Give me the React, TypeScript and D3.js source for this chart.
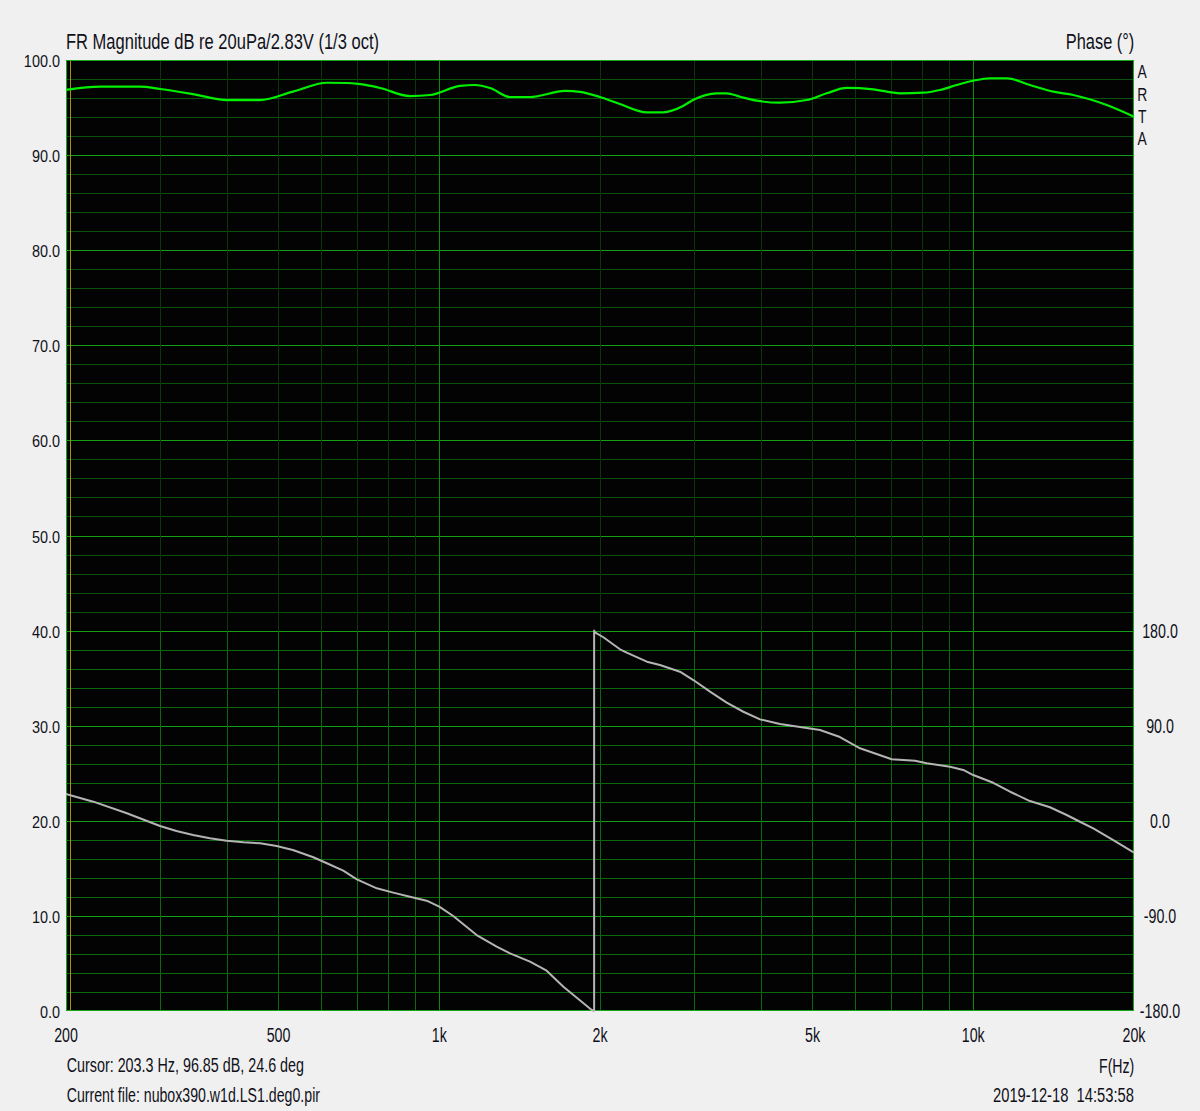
import React from "react";
import * as d3 from "d3";

// ---- Data ----
const magFreq = [200, 232, 275, 300, 346, 400, 462, 532, 616, 671, 705, 775, 881, 961, 1093, 1167, 1245, 1357, 1479, 1720, 1835, 2000, 2180, 2448, 2624, 2861, 2986, 3308, 3454, 3658, 3931, 4346, 4876, 5316, 5794, 6498, 7292, 8062, 8663, 9311, 10000, 10750, 11550, 12770, 14120, 15390, 17780, 20000];
const magDb = [96.85, 97.19, 97.19, 96.95, 96.42, 95.79, 95.79, 96.67, 97.61, 97.58, 97.48, 97.06, 96.21, 96.32, 97.27, 97.37, 97.06, 96.11, 96.11, 96.75, 96.65, 96.11, 95.37, 94.5, 94.5, 95.16, 95.79, 96.5, 96.5, 96.14, 95.72, 95.51, 95.79, 96.5, 97.06, 96.92, 96.5, 96.56, 96.85, 97.37, 97.82, 98.08, 98.08, 97.37, 96.67, 96.32, 95.27, 94.04];

const phaseFreq = [200, 225, 260, 300, 322, 346, 372, 400, 430, 462, 496, 532, 581, 616, 661, 701, 764, 820, 881, 947, 1000, 1062, 1175, 1281, 1357, 1479, 1589, 1708, 1930, 1950, 1950, 1957, 2029, 2180, 2244, 2448, 2590, 2823, 2991, 3214, 3454, 3711, 3988, 4346, 4738, 5164, 5628, 6136, 7036, 7780, 8181, 9046, 9578, 10000, 10900, 11720, 12770, 13920, 14960, 15840, 16780, 18290, 20000];
const phaseDeg = [25.4, 18.1, 7.1, -4.9, -9.7, -13.4, -16.6, -18.8, -20.4, -21.3, -23.9, -27.6, -34.5, -40.2, -47.2, -55.4, -63.9, -68, -71.8, -75.6, -81.3, -90.1, -108.1, -119.1, -125.4, -133.3, -141.9, -157, -179.1, -180, 180, 178.4, 173.7, 162.3, 159.1, 150.6, 147.4, 141.1, 133.2, 122.2, 111.8, 103.2, 96, 91.6, 88.8, 85.9, 79.3, 68.6, 58.2, 56.9, 54.4, 51.2, 48.1, 43.3, 36, 27.5, 18.7, 12.8, 5.5, -0.9, -7.1, -18.2, -30.2];

const dbTicks = [0, 10, 20, 30, 40, 50, 60, 70, 80, 90, 100];
const phaseTicks = [-180, -90, 0, 90, 180];
const freqTicks = [200, 500, 1000, 2000, 5000, 10000, 20000];
const freqTickLabels = ["200", "500", "1k", "2k", "5k", "10k", "20k"];
const cursorFreq = 203.3;

const titleText = "FR Magnitude dB re 20uPa/2.83V (1/3 oct)";
const phaseTitle = "Phase (°)";
const cursorText = "Cursor: 203.3 Hz, 96.85 dB, 24.6 deg";
const fileText = "Current file: nubox390.w1d.LS1.deg0.pir";
const xTitle = "F(Hz)";
const dateText = "2019-12-18  14:53:58";
const brand = ["A", "R", "T", "A"];

// ---- Layout ----
const W = 1200, H = 1111;
const L = 66, R = 1134, T = 60, B = 1011;
const FONT = "'Liberation Sans', Arial, sans-serif";
const TXT = "#10101a";

export default function App() {
  const x = d3.scaleLog().domain([200, 20000]).range([L, R]);
  const yDb = d3.scaleLinear().domain([0, 100]).range([B, T]);
  const yPh = d3.scaleLinear().domain([-180, 180]).range([B, yDb(40)]);
  const yMid = yDb(40);

  const gridFreqs: number[] = [];
  for (let f = 300; f <= 1000; f += 100) gridFreqs.push(f);
  for (let f = 2000; f <= 10000; f += 1000) gridFreqs.push(f);

  const magLine = d3
    .line<number>()
    .x((_, i) => x(magFreq[i]))
    .y((d) => yDb(d))
    .curve(d3.curveMonotoneX);
  const phLine = d3
    .line<number>()
    .x((_, i) => x(phaseFreq[i]))
    .y((d) => yPh(d))
    .curve(d3.curveLinear);

  const px = (v: number) => Math.round(v) + 0.5;

  return (
    <svg
      width={W}
      height={H}
      style={{ position: "absolute", left: 0, top: 0, background: "#f0f0f0" }}
      fontFamily={FONT}
    >
      <rect x={0} y={0} width={W} height={H} fill="#f0f0f0" />
      <rect x={L} y={T} width={R - L} height={B - T} fill="#030303" />

      <g shapeRendering="crispEdges">
        {d3.range(2, 100, 2).map((v) => {
          const major = v % 10 === 0;
          const col = major ? "#14a014" : v < 40 ? "#0c680c" : "#0c520c";
          return <line key={"h" + v} x1={L} x2={R} y1={px(yDb(v))} y2={px(yDb(v))} stroke={col} strokeWidth={1} />;
        })}
        {gridFreqs.map((f) => {
          const decade = f === 1000 || f === 10000;
          const xx = px(x(f));
          if (decade)
            return <line key={"v" + f} x1={xx} x2={xx} y1={T} y2={B} stroke="#0e8a0e" strokeWidth={1} />;
          return (
            <g key={"v" + f}>
              <line x1={xx} x2={xx} y1={T} y2={yMid} stroke="#0a360a" strokeWidth={1} />
              <line x1={xx} x2={xx} y1={yMid} y2={B} stroke="#0c680c" strokeWidth={1} />
            </g>
          );
        })}
        <line x1={px(x(cursorFreq))} x2={px(x(cursorFreq))} y1={T} y2={B} stroke="#a89400" strokeWidth={1.5} />
        <rect x={L + 0.5} y={T + 0.5} width={R - L - 1} height={B - T - 1} fill="none" stroke="#14a814" strokeWidth={1} />
      </g>

      <path d={phLine(phaseDeg) || ""} fill="none" stroke="#b4b4b4" strokeWidth={2} strokeLinejoin="round" />
      <path d={magLine(magDb) || ""} fill="none" stroke="#00f000" strokeWidth={2.2} strokeLinejoin="round" />

      {/* Left dB tick labels */}
      {dbTicks.map((v) => (
        <text
          key={"dl" + v}
          transform={`translate(60,${yDb(v) + 7}) scale(0.85,1)`}
          textAnchor="end"
          fontSize={17}
          fill={TXT}
        >
          {v.toFixed(1)}
        </text>
      ))}

      {/* Right phase tick labels */}
      {phaseTicks.map((v) => (
        <text
          key={"pl" + v}
          transform={`translate(1160,${yPh(v) + 7}) scale(0.73,1)`}
          textAnchor="middle"
          fontSize={19.5}
          fill={TXT}
        >
          {v.toFixed(1)}
        </text>
      ))}

      {/* Frequency tick labels */}
      {freqTicks.map((f, i) => (
        <text
          key={"fl" + f}
          transform={`translate(${x(f)},1041.7) scale(0.73,1)`}
          textAnchor="middle"
          fontSize={19.5}
          fill={TXT}
        >
          {freqTickLabels[i]}
        </text>
      ))}

      <text x={66} y={48.5} fontSize={21.5} fill={TXT} textLength={313} lengthAdjust="spacingAndGlyphs">
        {titleText}
      </text>
      <text x={1134.3} y={49.3} fontSize={21.5} fill={TXT} textAnchor="end" textLength={68.5} lengthAdjust="spacingAndGlyphs">
        {phaseTitle}
      </text>
      {brand.map((c, i) => (
        <text
          key={"b" + i}
          transform={`translate(1142.2,${78.3 + i * 22.3}) scale(0.75,1)`}
          textAnchor="middle"
          fontSize={18.5}
          fill={TXT}
        >
          {c}
        </text>
      ))}
      <text x={66.7} y={1072.3} fontSize={20.5} fill={TXT} textLength={237.3} lengthAdjust="spacingAndGlyphs">
        {cursorText}
      </text>
      <text x={66.7} y={1102.3} fontSize={20.5} fill={TXT} textLength={253.3} lengthAdjust="spacingAndGlyphs">
        {fileText}
      </text>
      <text x={1134.3} y={1073} fontSize={20.5} fill={TXT} textAnchor="end" textLength={35.3} lengthAdjust="spacingAndGlyphs">
        {xTitle}
      </text>
      <text
        x={1134}
        y={1101.7}
        fontSize={20.5}
        fill={TXT}
        textAnchor="end"
        textLength={141}
        lengthAdjust="spacingAndGlyphs"
        style={{ whiteSpace: "pre" }}
      >
        {dateText}
      </text>
    </svg>
  );
}
